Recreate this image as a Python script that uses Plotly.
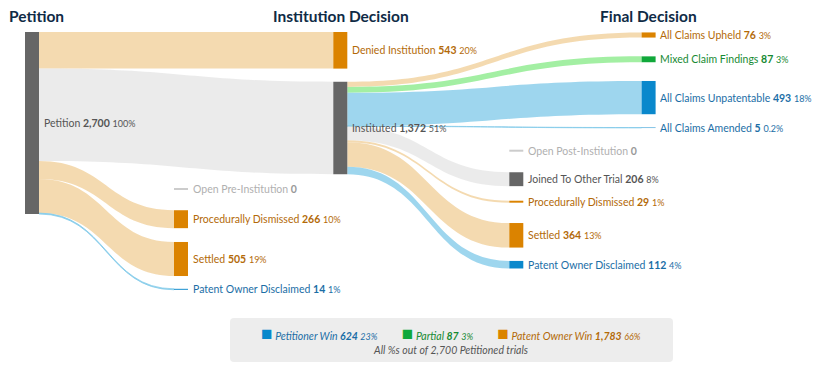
import plotly.graph_objects as go

# page has an 8px body margin: the figure is drawn from (8, 8)
OFF = 8
W, H = 821 - OFF, 371 - OFF

# ---------------- data ----------------
stage_titles = ["Petition", "Institution Decision", "Final Decision"]

node_names = ["Petition", "Denied Institution", "Instituted", "Procedurally Dismissed", "Settled",
              "Patent Owner Disclaimed", "All Claims Upheld", "Mixed Claim Findings",
              "All Claims Unpatentable", "All Claims Amended", "Joined To Other Trial",
              "Procedurally Dismissed", "Settled", "Patent Owner Disclaimed"]
node_values = [2700, 543, 1372, 266, 505, 14, 76, 87, 493, 5, 206, 29, 364, 112]
node_pcts = ["100%", "20%", "51%", "10%", "19%", "1%", "3%", "3%", "18%", "0.2%", "8%", "1%", "13%", "4%"]
node_group = ["neutral", "owner", "neutral", "owner", "owner", "pet", "owner", "partial",
              "pet", "pet", "neutral", "owner", "owner", "pet"]

link_source = [0, 0, 0, 0, 0, 2, 2, 2, 2, 2, 2, 2, 2]
link_target = [1, 2, 3, 4, 5, 6, 7, 8, 9, 10, 11, 12, 13]
link_value = [543, 1372, 266, 505, 14, 76, 87, 493, 5, 206, 29, 364, 112]

zero_names = ["Open Pre-Institution", "Open Post-Institution"]
zero_values = [0, 0]

outcome_names = ["Petitioner Win", "Partial", "Patent Owner Win"]
outcome_values = [624, 87, 1783]
outcome_pcts = ["23%", "3%", "66%"]
outcome_group = ["pet", "partial", "owner"]
total_trials = 2700

# ---------------- styling / layout (reference page pixels) ----------------
node_color = {"neutral": "#666666", "owner": "#db8300", "partial": "#10a83a", "pet": "#0a88cc"}
link_color = {"neutral": "rgba(222,222,222,0.6)", "owner": "rgba(240,205,150,0.75)",
              "partial": "rgba(140,235,140,0.8)", "pet": "rgba(125,200,232,0.75)"}
text_color = {"neutral": "#555555", "owner": "#b36a08", "partial": "#178a32", "pet": "#1b6ea6"}

col_cx = [32, 181, 340.3, 516.3, 648.6]          # column centres
node_col = [0, 2, 2, 1, 1, 1, 4, 4, 4, 4, 3, 3, 3, 3]
node_cy = [123, 50.3, 128, 219.2, 259, 289.3, 35, 59.3, 97.6, 127.7, 179.2, 201.7, 235.3, 264.7]
zero_col = [1, 3]
zero_cy = [189, 150.7]
thick = 14
dom_top, dom_bot = 30, 292
dom_h = dom_bot - dom_top
pad = (dom_h - 182) / 4


def px(x):
    return (x - OFF) / W


def py(y):
    return 1 - (y - OFF) / H


FONT = "Lato"
LBL = 10.5

fig = go.Figure(go.Sankey(
    arrangement="fixed",
    domain=dict(x=[0, 1], y=[py(dom_bot), py(dom_top)]),
    node=dict(
        label=[""] * len(node_names),
        x=[px(col_cx[c]) for c in node_col],
        y=[(cy - dom_top) / dom_h for cy in node_cy],
        pad=pad,
        thickness=thick,
        align="left",
        color=[node_color[g] for g in node_group],
        line=dict(width=0),
        hovertemplate="%{value}<extra></extra>",
    ),
    link=dict(
        source=link_source,
        target=link_target,
        value=link_value,
        color=[link_color[node_group[t]] for t in link_target],
        line=dict(width=0),
        hovertemplate="%{value}<extra></extra>",
    ),
))

annotations = []
shapes = []

# node labels
for i, name in enumerate(node_names):
    g = node_group[i]
    annotations.append(dict(
        x=px(col_cx[node_col[i]] + thick / 2 + 3.5), y=py(node_cy[i]),
        xref="paper", yref="paper", xanchor="left", yanchor="middle", showarrow=False,
        borderpad=0,
        text=f"{name} <b>{node_values[i]:,}</b> <span style='font-size:9px'>{node_pcts[i]}</span>",
        font=dict(family=FONT, size=LBL, color=text_color[g]),
    ))

# zero-value nodes
for j, name in enumerate(zero_names):
    cx = col_cx[zero_col[j]]
    yy = py(zero_cy[j])
    shapes.append(dict(type="line", xref="paper", yref="paper",
                       x0=px(cx - thick / 2), x1=px(cx + thick / 2), y0=yy, y1=yy,
                       line=dict(color="#cccccc", width=2)))
    annotations.append(dict(
        x=px(cx + thick / 2 + 3.5), y=yy, xref="paper", yref="paper",
        xanchor="left", yanchor="middle", showarrow=False, borderpad=0,
        text=f"{name} <b><span style='color:#999999'>{zero_values[j]}</span></b>",
        font=dict(family=FONT, size=LBL, color="#b0b0b0"),
    ))

# stage titles
title_x = [8, 340.5, 648]
title_anchor = ["left", "center", "center"]
for t, x, a in zip(stage_titles, title_x, title_anchor):
    annotations.append(dict(
        x=px(x), y=py(16), xref="paper", yref="paper", xanchor=a, yanchor="middle",
        showarrow=False, borderpad=0, text=f"<b>{t}</b>",
        font=dict(family=FONT, size=15.5, color="#0f2b46"),
    ))

# summary box
bx0, bx1, by0, by1, r = 230 - OFF, 673 - OFF, 318 - OFF, 362 - OFF, 4
path = (f"M {bx0 + r},{by0} L {bx1 - r},{by0} Q {bx1},{by0} {bx1},{by0 + r} "
        f"L {bx1},{by1 - r} Q {bx1},{by1} {bx1 - r},{by1} L {bx0 + r},{by1} "
        f"Q {bx0},{by1} {bx0},{by1 - r} L {bx0},{by0 + r} Q {bx0},{by0} {bx0 + r},{by0} Z")
shapes.append(dict(type="path", xref="x", yref="y", path=path,
                   fillcolor="#ededed", line=dict(width=0), layer="below"))

parts = []
for n, v, p, g in zip(outcome_names, outcome_values, outcome_pcts, outcome_group):
    parts.append(f"<span style='color:{node_color[g]};font-size:19px'>■</span> "
                 f"<span style='color:{text_color[g]}'><i>{n} <b>{v:,}</b> "
                 f"<span style='font-size:9px'>{p}</span></i></span>")
line1 = "         ".join(parts)
annotations.append(dict(
    x=px(451), y=py(332), xref="paper", yref="paper",
    xanchor="center", yanchor="middle", showarrow=False, text=line1, borderpad=0,
    font=dict(family=FONT, size=LBL, color="#555555"),
))
annotations.append(dict(
    x=px(451), y=py(350), xref="paper", yref="paper",
    xanchor="center", yanchor="middle", showarrow=False, borderpad=0,
    text=f"<i>All %s out of {total_trials:,} Petitioned trials</i>",
    font=dict(family=FONT, size=LBL, color="#555555"),
))

fig.update_layout(
    width=W, height=H,
    margin=dict(l=0, r=0, t=0, b=0),
    paper_bgcolor="white", plot_bgcolor="white",
    xaxis=dict(range=[0, W], visible=False, fixedrange=True),
    yaxis=dict(range=[H, 0], visible=False, fixedrange=True),
    annotations=annotations,
    shapes=shapes,
    showlegend=False,
    font=dict(family=FONT),
)

fig.write_html("out.html")
